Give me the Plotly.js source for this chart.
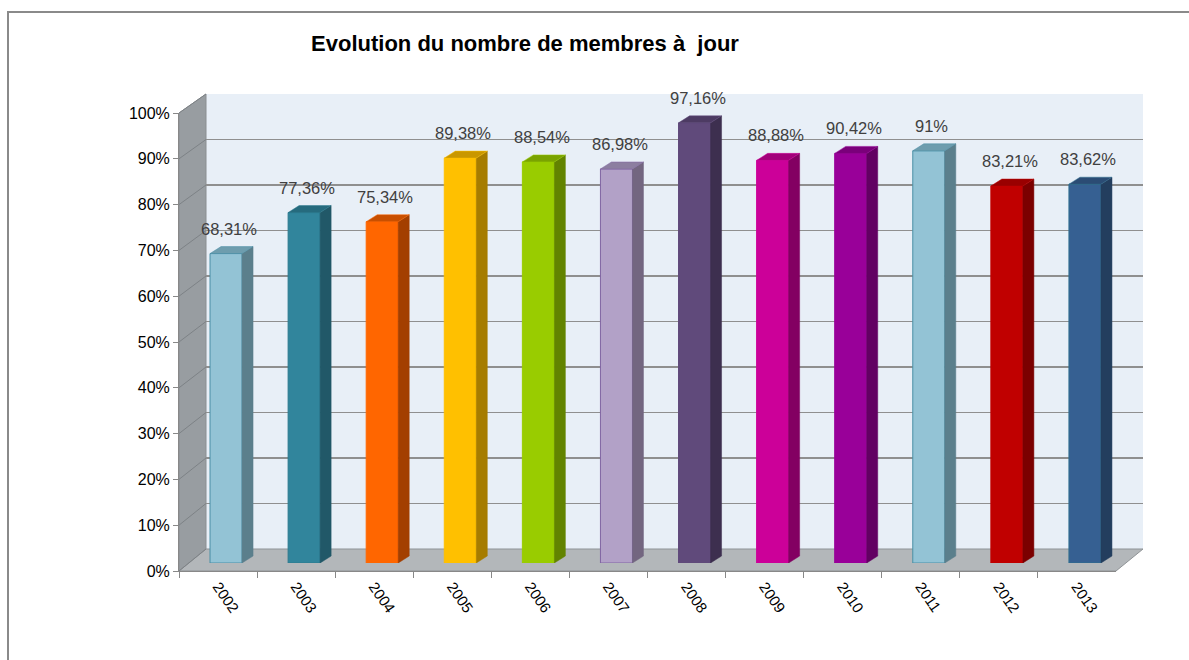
<!DOCTYPE html>
<html>
<head>
<meta charset="utf-8">
<script src="https://cdn.plot.ly/plotly-3.0.1.min.js"></script>
<style>html,body{margin:0;padding:0;background:#fff;}#chart{width:1189px;height:660px;}</style>
</head>
<body>
<div id="chart"></div>
<script>
// ---- data ----
const years = ['2002','2003','2004','2005','2006','2007','2008','2009','2010','2011','2012','2013'];
const values = [68.31, 77.36, 75.34, 89.38, 88.54, 86.98, 97.16, 88.88, 90.42, 91, 83.21, 83.62];
const frontColors = ['#93C3D5','#31859C','#FF6600','#FFC000','#99CC00','#B2A1C7','#604A7B','#CC0099','#990099','#93C3D5','#C00000','#366092'];
const sideColors  = ['#5B7F8C','#215868','#A33F00','#A67C00','#628300','#736680','#3D2F4F','#830062','#620062','#5B7F8C','#7B0000','#233E5E'];
const topColors   = ['#6E9DAE','#266B7E','#C84F00','#C99700','#7AA300','#8C7EA0','#4D3B63','#A3007A','#7A007A','#6E9DAE','#990000','#2B4C74'];
const lineColors  = ['#4A8FA6','#2C7A8F','#FF6600','#FFC000','#99CC00','#8064A2','#604A7B','#CC0099','#990099','#4A8FA6','#C00000','#2F6F8F'];
const yTicks = [0,10,20,30,40,50,60,70,80,90,100];
const yTickText = ['0%','10%','20%','30%','40%','50%','60%','70%','80%','90%','100%'];
const titleText = 'Evolution du nombre de membres à  jour';

// ---- layout helpers ----
const W = 1189, H = 660;
const px = x => x / W;
const py = y => 1 - y / H;
const idx = years.map((_, i) => i);
const fmt = v => String(v).replace('.', ',') + '%';

// geometry (pixels)
const back = {x0: 206, x1: 1143, y0: 549, y1: 94};     // back wall
const front = {x0: 179, x1: 1116, y0: 571, y1: 113};   // front axis
const barDom = {x0: 187, x1: 1124, y0: 563, y1: 110};  // bars
const barW = 0.41;
const depthX = 11 / ((barDom.x1 - barDom.x0) / 12);
const depthY = 7 / ((barDom.y0 - barDom.y1) / 100);

const shapes = [];
// outer frame
shapes.push({type:'rect', xref:'paper', yref:'paper', x0:px(8), x1:px(1210), y0:py(12), y1:py(700),
  line:{color:'#8a8a8a', width:2}, fillcolor:'rgba(0,0,0,0)', layer:'below'});
// back wall
shapes.push({type:'rect', xref:'paper', yref:'paper', x0:px(back.x0), x1:px(back.x1), y0:py(back.y0), y1:py(back.y1),
  line:{width:0}, fillcolor:'#E8EFF7', layer:'below'});
// side wall
shapes.push({type:'path', xref:'paper', yref:'paper',
  path:`M ${px(front.x0)},${py(front.y1)} L ${px(back.x0)},${py(back.y1)} L ${px(back.x0)},${py(back.y0)} L ${px(front.x0)},${py(front.y0)} Z`,
  fillcolor:'#989DA1', line:{color:'#8a8e91', width:1}, layer:'below'});
// floor
shapes.push({type:'path', xref:'paper', yref:'paper',
  path:`M ${px(front.x0)},${py(front.y0)} L ${px(back.x0)},${py(back.y0)} L ${px(back.x1)},${py(back.y0)} L ${px(front.x1)},${py(front.y0)} Z`,
  fillcolor:'#B3B7BA', line:{color:'#8f9396', width:1}, layer:'below'});
// diagonal tick lines on the side wall
yTicks.forEach(t => {
  const yf = front.y0 - t / 100 * (front.y0 - front.y1);
  const yb = back.y0 - t / 100 * (back.y0 - back.y1);
  shapes.push({type:'line', xref:'paper', yref:'paper', x0:px(front.x0), y0:py(yf), x1:px(back.x0), y1:py(yb),
    line:{color:'#7d8286', width:1}, layer:'below'});
});
// 3D faces of the bars (from the data)
values.forEach((v, i) => {
  const l = i - barW / 2, r = i + barW / 2;
  shapes.push({type:'path', xref:'x3', yref:'y3',
    path:`M ${r},0 L ${r + depthX},${depthY} L ${r + depthX},${v + depthY} L ${r},${v} Z`,
    fillcolor: sideColors[i], line:{color: sideColors[i], width:0.5}, layer:'above'});
  shapes.push({type:'path', xref:'x3', yref:'y3',
    path:`M ${l},${v} L ${r},${v} L ${r + depthX},${v + depthY} L ${l + depthX},${v + depthY} Z`,
    fillcolor: topColors[i], line:{color: lineColors[i], width:0.5}, layer:'above'});
});

const annotations = values.map((v, i) => ({
  x: i + 0.04, y: v + depthY, xref:'x3', yref:'y3', text: fmt(v), showarrow:false,
  yanchor:'bottom', yshift: 7,
  font:{family:'Liberation Sans, Arial, sans-serif', size:16.5, color:'#404040'}
}));

const traces = [
  {type:'bar', x: idx, y: values, xaxis:'x3', yaxis:'y3', width: barW,
   marker:{color: frontColors, line:{color: lineColors, width:1}}, hoverinfo:'skip', showlegend:false},
  {type:'scatter', mode:'markers', x: years, y: values, xaxis:'x2', yaxis:'y2',
   marker:{opacity:0}, hoverinfo:'skip', showlegend:false},
  {type:'scatter', mode:'markers', x: [0.5], y: [50], xaxis:'x', yaxis:'y',
   marker:{opacity:0}, hoverinfo:'skip', showlegend:false}
];

const layout = {
  width: W, height: H,
  margin:{l:0, r:0, t:0, b:0},
  paper_bgcolor:'#ffffff', plot_bgcolor:'rgba(0,0,0,0)',
  showlegend:false,
  title:{text: titleText, x: px(525), xanchor:'center', y: py(43), yanchor:'middle',
    font:{family:'Liberation Sans, Arial, sans-serif', size:22, color:'#000', weight:'bold'}},
  xaxis:{domain:[px(back.x0), px(back.x1)], range:[0,1], visible:false, anchor:'y', fixedrange:true},
  yaxis:{domain:[py(back.y0), py(back.y1)], range:[0,100], tick0:0, dtick:10, showgrid:true,
    gridcolor:'#8f8f8f', gridwidth:1.5, showticklabels:false, ticks:'', zeroline:false, showline:false, anchor:'x', fixedrange:true},
  xaxis2:{domain:[px(front.x0), px(front.x1)], type:'category', categoryarray: years, range:[-0.5, 11.5],
    anchor:'y2', tickson:'boundaries', ticks:'outside', ticklen:6, tickcolor:'#888', showline:true, linecolor:'#888',
    tickangle:55, showgrid:false, zeroline:false,
    tickfont:{family:'Liberation Sans, Arial, sans-serif', size:15, color:'#000'}, fixedrange:true},
  yaxis2:{domain:[py(front.y0), py(front.y1)], range:[0,100], tickmode:'array', tickvals: yTicks, ticktext: yTickText,
    ticks:'outside', ticklen:5, tickcolor:'#888', showline:true, linecolor:'#888', showgrid:false, zeroline:false,
    anchor:'x2', tickfont:{family:'Liberation Sans, Arial, sans-serif', size:16, color:'#000'}, fixedrange:true},
  xaxis3:{domain:[px(barDom.x0), px(barDom.x1)], range:[-0.5, 11.5], visible:false, anchor:'y3', fixedrange:true},
  yaxis3:{domain:[py(barDom.y0), py(barDom.y1)], range:[0,100], visible:false, anchor:'x3', fixedrange:true},
  shapes: shapes,
  annotations: annotations,
  bargap: 0
};

Plotly.newPlot('chart', traces, layout, {displayModeBar:false, staticPlot:true});
</script>
</body>
</html>
